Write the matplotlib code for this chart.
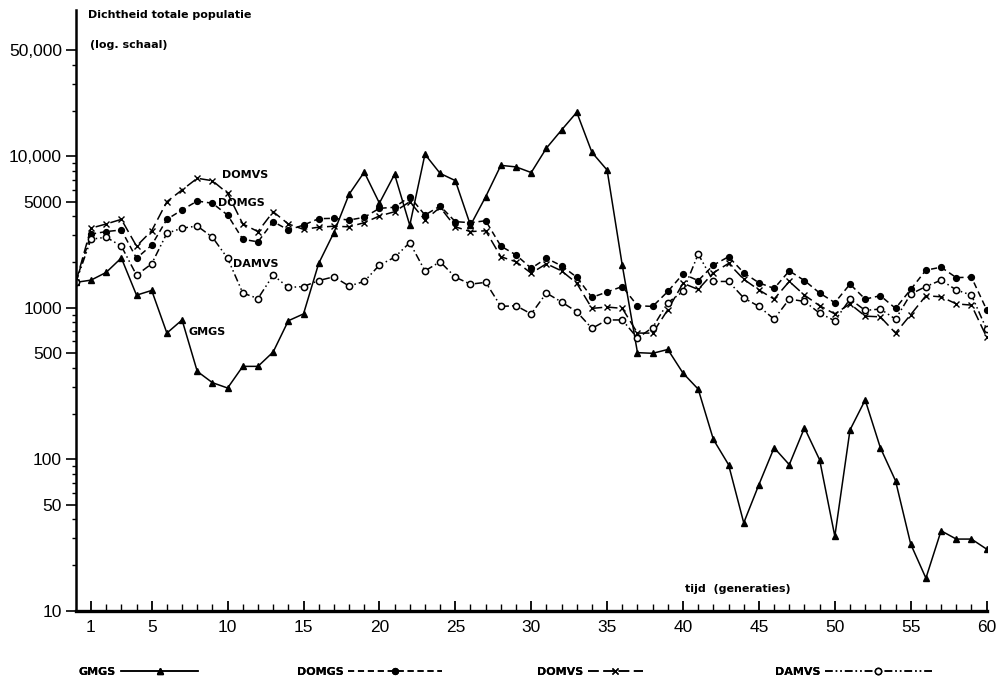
import numpy as np
import matplotlib
matplotlib.use('Agg')
from matplotlib import pyplot as plt
from matplotlib.ticker import FixedLocator, NullFormatter

# ------------------------------------------------------------
# data (t = 0 .. 60 generations)
t = np.arange(0, 61)

gmgs = [1470, 1520, 1710, 2130, 1210, 1300, 680, 830, 380, 320, 295,
        410, 410, 510, 820, 910, 1960, 3130, 5600, 7850, 4900,
        7600, 3500, 10300, 7700, 6900, 3500, 5400, 8700, 8500, 7800,
        11300, 14900, 19500, 10600, 8100, 1900, 505, 500, 530, 370,
        290, 135, 92, 38, 68, 119, 92, 161, 99, 31,
        156, 246, 119, 72, 27.5, 16.4, 33.7, 29.7, 29.7, 25.5]

domgs = [1470, 3060, 3180, 3260, 2120, 2590, 3830, 4420, 5060, 4890, 4090,
         2830, 2720, 3700, 3260, 3510, 3870, 3890, 3790, 3950, 4530,
         4600, 5410, 4090, 4690, 3700, 3640, 3750, 2550, 2230, 1820,
         2120, 1890, 1590, 1170, 1270, 1380, 1030, 1020, 1280, 1670,
         1510, 1910, 2170, 1700, 1460, 1340, 1750, 1510, 1250, 1080,
         1430, 1140, 1200, 990, 1320, 1770, 1850, 1580, 1590, 970]

domvs = [1470, 3350, 3570, 3830, 2550, 3220, 5010, 5990, 7150, 6890, 5690,
         3570, 3180, 4300, 3570, 3290, 3400, 3450, 3420, 3640, 4030,
         4300, 5010, 3790, 4600, 3420, 3180, 3220, 2170, 2010, 1690,
         1950, 1750, 1450, 990, 1010, 990, 680, 680, 970, 1450,
         1320, 1700, 1960, 1540, 1310, 1140, 1490, 1210, 1030, 910,
         1060, 880, 870, 680, 900, 1200, 1180, 1060, 1040, 640]

damvs = [1470, 2830, 2920, 2550, 1640, 1950, 3100, 3350, 3460, 2920, 2120,
         1250, 1150, 1640, 1360, 1380, 1510, 1600, 1390, 1490, 1910,
         2150, 2690, 1750, 2010, 1590, 1430, 1470, 1020, 1030, 910,
         1250, 1090, 940, 730, 830, 830, 630, 740, 1080, 1280,
         2260, 1490, 1490, 1160, 1020, 840, 1140, 1100, 920, 820,
         1140, 960, 980, 840, 1230, 1380, 1520, 1310, 1210, 720]

yticks = [10, 50, 100, 500, 1000, 5000, 10000, 50000]
ytick_labels = ['10', '50', '100', '500', '1000', '5000', '10,000', '50,000']
xticks = [1, 5, 10, 15, 20, 25, 30, 35, 40, 45, 50, 55, 60]

# ------------------------------------------------------------
plt.rcParams['font.family'] = ['DejaVu Sans']
fig = plt.figure(figsize=(10.04, 6.79), dpi=100)
ax = fig.add_axes([0.0755, 0.1006, 0.9072, 0.8847])

lw = 1.1
l1, = ax.plot(t, gmgs, '-', color='k', lw=lw, marker='^', ms=4.5,
              mfc='k', mec='k', label='GMGS')
l2, = ax.plot(t, domgs, color='k', lw=lw, ls=(0, (4, 2.5)), marker='o',
              ms=4.2, mfc='k', mec='k', label='DOMGS')
l3, = ax.plot(t, domvs, color='k', lw=lw, ls=(0, (7, 3)), marker='x',
              ms=5, mew=1.0, mec='k', label='DOMVS')
l4, = ax.plot(t, damvs, color='k', lw=lw, ls=(0, (5, 2, 1, 2, 1, 2)),
              marker='o', ms=4.5, mfc='white', mec='k', mew=1.1,
              label='DAMVS')

ax.set_yscale('log')
ax.set_xlim(0, 60)
ax.set_ylim(10, 92300)

ax.yaxis.set_major_locator(FixedLocator(yticks))
ax.set_yticklabels(ytick_labels, family='Liberation Sans')
minor = [m * 10 ** e for e in range(1, 5) for m in range(2, 10)]
minor = [v for v in minor if v not in yticks and v < 50000]
ax.yaxis.set_minor_locator(FixedLocator(minor))
ax.yaxis.set_minor_formatter(NullFormatter())
ax.tick_params(axis='y', which='major', direction='out', length=7,
               width=1.2, labelsize=12.5, pad=3)
ax.tick_params(axis='y', which='minor', direction='out', length=3,
               width=1.0)

ax.set_xticks(xticks)
ax.set_xticklabels([str(v) for v in xticks], family='Liberation Sans')
ax.set_xticks(np.arange(1, 61), minor=True)
ax.tick_params(axis='x', which='major', direction='in', length=7,
               width=1.3, labelsize=12.5, pad=7)
ax.tick_params(axis='x', which='minor', direction='in', length=5,
               width=1.0)

for s in ['top', 'right']:
    ax.spines[s].set_visible(False)
ax.spines['left'].set_linewidth(1.8)
ax.spines['bottom'].set_linewidth(2.4)

lab = dict(fontsize=8, fontweight='bold', color='k', va='center')
ax.text(9.6, 7520, 'DOMVS', **lab)
ax.text(9.35, 4910, 'DOMGS', **lab)
ax.text(10.35, 1940, 'DAMVS', **lab)
ax.text(7.4, 692, 'GMGS', **lab)
ax.text(40.1, 13.9, 'tijd  (generaties)', **lab)
ax.text(0.0134, 0.9917, 'Dichtheid totale populatie',
        transform=ax.transAxes, **lab)
ax.text(0.0156, 0.9417, '(log. schaal)', transform=ax.transAxes, **lab)

# legend entries along the bottom, label first then line sample
leg_x = [73, 291, 531, 769]
leg_len = [7.0, 8.4, 5.0, 9.6]
for h, x0, hl in zip([l1, l2, l3, l4], leg_x, leg_len):
    lg = fig.legend(handles=[h], loc='center left',
                    bbox_to_anchor=((x0 - 4) / 1004, 1 - 672 / 679),
                    frameon=False, markerfirst=False, numpoints=1,
                    handlelength=hl, handletextpad=0.4,
                    prop={'size': 8, 'weight': 'bold'})
    fig.add_artist(lg)

fig.savefig('out.png', dpi=100)
